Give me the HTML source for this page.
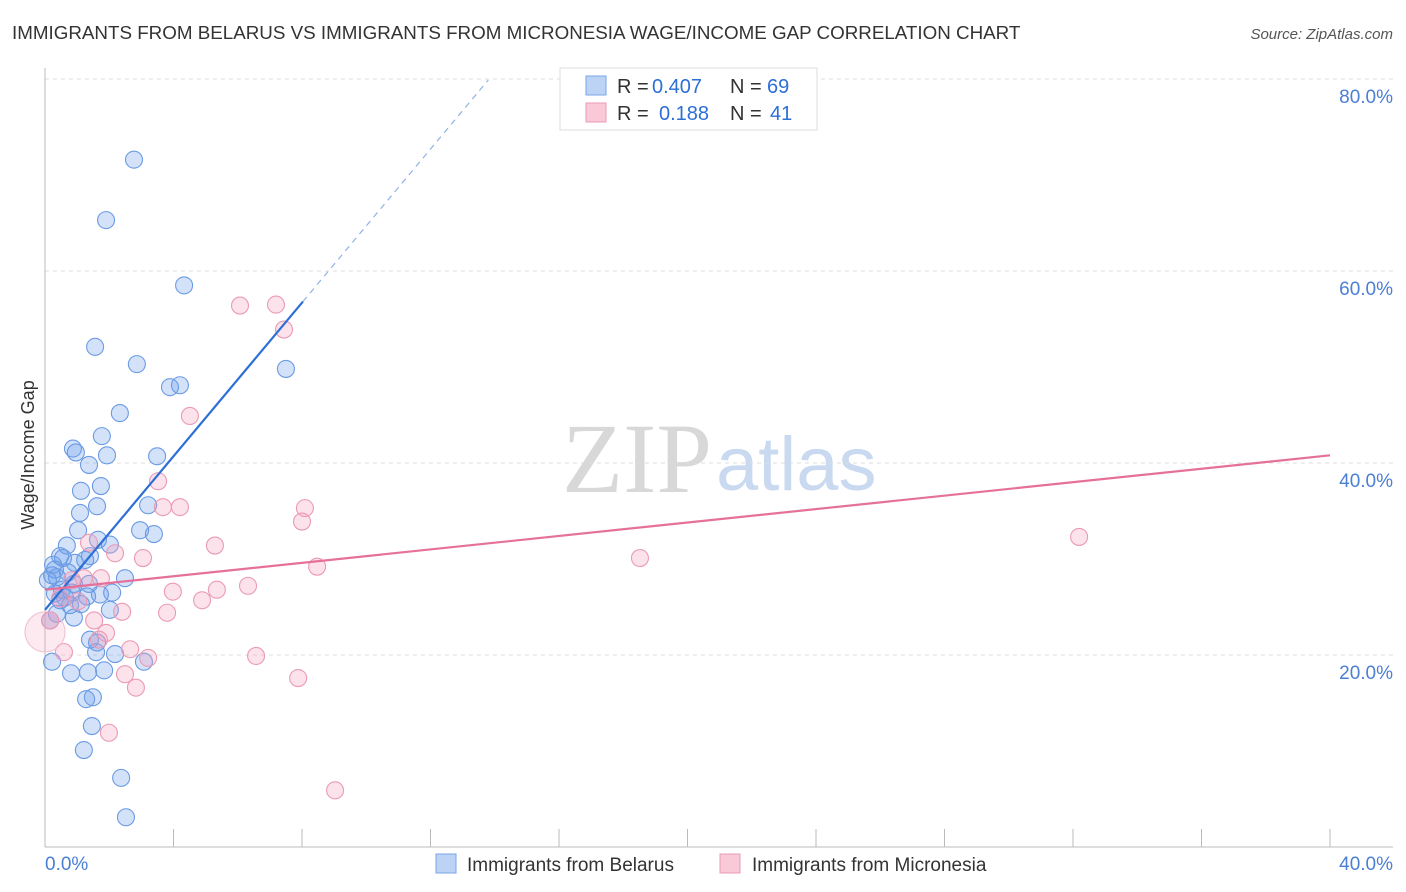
<!DOCTYPE html>
<html><head><meta charset="utf-8">
<style>
body{margin:0;background:#fff;font-family:"Liberation Sans",sans-serif;}
#wrap{position:relative;width:1406px;height:892px;overflow:hidden;}
</style></head>
<body>
<div id="wrap">
<svg id="chart" width="1406" height="892" xmlns="http://www.w3.org/2000/svg">
<text x="12" y="39" font-size="18.8" fill="#333">IMMIGRANTS FROM BELARUS VS IMMIGRANTS FROM MICRONESIA WAGE/INCOME GAP CORRELATION CHART</text>
<text x="1393" y="39" font-size="15" fill="#555" font-style="italic" text-anchor="end">Source: ZipAtlas.com</text>
<text x="712" y="492" font-size="100" fill="#d8d8d8" text-anchor="end" font-family="Liberation Serif,serif">ZIP</text>
<text x="716" y="490" font-size="76" fill="#c9d9f0">atlas</text>
<g id="grid"></g><g id="axes"></g><g id="pts"></g><g id="lines"></g>
<text transform="translate(34,455) rotate(-90)" font-size="18" fill="#333" text-anchor="middle">Wage/Income Gap</text>
<text x="45" y="870" font-size="19" fill="#4a7fd4">0.0%</text>
<text x="1393" y="870" font-size="19" fill="#4a7fd4" text-anchor="end">40.0%</text>
<g>
<rect x="560" y="68" width="257" height="62" fill="#fff" stroke="#ddd"/>
<rect x="586" y="76" width="20" height="19" fill="#bcd3f5" stroke="#7aa5e8"/>
<rect x="586" y="103" width="20" height="19" fill="#f9c9d8" stroke="#eb9ab5"/>
<text x="617" y="93" font-size="20" fill="#333">R =</text>
<text x="652" y="93" font-size="20" fill="#2c6fd6">0.407</text>
<text x="730" y="93" font-size="20" fill="#333">N =</text>
<text x="767" y="93" font-size="20" fill="#2c6fd6">69</text>
<text x="617" y="120" font-size="20" fill="#333">R =</text>
<text x="659" y="120" font-size="20" fill="#2c6fd6">0.188</text>
<text x="730" y="120" font-size="20" fill="#333">N =</text>
<text x="770" y="120" font-size="20" fill="#2c6fd6">41</text>
</g>
<g>
<rect x="436" y="854" width="20" height="19" fill="#bcd3f5" stroke="#7aa5e8"/>
<text x="467" y="871" font-size="19" fill="#333">Immigrants from Belarus</text>
<rect x="720" y="854" width="20" height="19" fill="#f9c9d8" stroke="#eb9ab5"/>
<text x="752" y="871" font-size="19" fill="#333">Immigrants from Micronesia</text>
</g>
</svg>
</div>
<script>
const yTicks=[20,40,60,80];
const yTickLabels=["20.0%","40.0%","60.0%","80.0%"];
const xTicks=[0,4,8,12,16,20,24,28,32,36,40];
const belarusX=[2.77,1.90,4.33,1.56,2.86,3.89,4.20,7.50,2.33,1.77,0.87,0.96,1.93,3.49,1.37,1.74,1.12,1.62,3.21,1.09,1.03,2.96,3.39,1.65,2.02,0.68,0.47,1.40,0.56,0.25,0.93,0.31,0.72,0.22,0.37,2.49,1.37,0.90,0.84,2.09,0.31,1.31,0.62,1.12,2.02,0.37,0.90,0.16,1.40,1.62,1.59,2.18,3.08,0.22,0.81,1.34,1.84,1.49,1.28,1.46,1.21,2.37,2.52,1.71,0.47,0.09,0.53,0.78,1.25];
const belarusY=[71.6,65.3,58.5,52.1,50.3,47.9,48.1,49.8,45.2,42.8,41.5,41.1,40.8,40.7,39.8,37.6,37.1,35.5,35.6,34.8,33.0,33.0,32.6,32.0,31.5,31.4,30.3,30.3,30.1,29.4,29.6,28.9,28.6,28.3,28.1,28.0,27.4,27.4,26.5,26.5,26.4,26.1,26.0,25.3,24.7,24.3,23.9,23.6,21.6,21.3,20.3,20.1,19.3,19.3,18.1,18.2,18.4,15.6,15.4,12.6,10.1,7.2,3.1,26.3,25.7,27.8,26.8,25.2,29.9];
const micronesiaX=[6.07,7.19,7.44,4.51,3.52,3.67,4.20,8.09,8.00,5.29,1.37,2.18,3.05,8.47,18.52,32.19,1.21,1.74,6.32,5.35,3.98,4.89,1.03,0.47,2.40,3.80,1.53,1.90,1.68,2.65,3.21,6.57,0.59,2.49,2.83,7.88,1.99,9.03,0,0.16,0.84];
const micronesiaY=[56.4,56.5,53.9,44.9,38.1,35.4,35.4,35.3,33.9,31.4,31.7,30.6,30.1,29.2,30.1,32.3,28.0,28.0,27.2,26.8,26.6,25.7,25.6,25.9,24.5,24.4,23.6,22.3,21.6,20.6,19.7,19.9,20.3,18.0,16.6,17.6,11.9,5.9,22.4,23.6,27.8];
const belarusTrend=[24.7,4.0]; // intercept, slope
const micronesiaTrend=[26.8,0.35];

const X0=45,X1=1330,Y0=847,YPER=9.6;
const sx=v=>X0+(X1-X0)*v/40;
const sy=v=>Y0-v*YPER;
const NS="http://www.w3.org/2000/svg";
function mk(tag,attrs,parent){const e=document.createElementNS(NS,tag);for(const k in attrs)e.setAttribute(k,attrs[k]);parent.appendChild(e);return e;}
const grid=document.getElementById('grid'),axes=document.getElementById('axes'),pts=document.getElementById('pts'),lines=document.getElementById('lines');
yTicks.forEach((t,i)=>{
  const l=mk('line',{x1:X0,x2:1393,y1:sy(t),y2:sy(t),stroke:'#ddd','stroke-dasharray':'4,4'},grid);
  
  
  const tx=mk('text',{x:1393,y:sy(t)+24,'font-size':19,fill:'#4a7fd4','text-anchor':'end'},grid);
  tx.textContent=yTickLabels[i];
  
  
});
const ya=mk('line',{x1:X0,x2:X0,y1:68,y2:Y0,stroke:'#bbb'},axes);


const xa=mk('line',{x1:X0,x2:1393,y1:Y0,y2:Y0,stroke:'#bbb'},axes);


xTicks.forEach(t=>{
  const l=mk('line',{x1:sx(t),x2:sx(t),y1:Y0-18,y2:Y0,stroke:'#bbb'},axes);
  
  
});
belarusX.forEach((v,i)=>{
  const c=mk('circle',{cx:sx(v),cy:sy(belarusY[i]),r:8.5,fill:'rgba(110,160,235,0.3)',stroke:'#6b9be3','stroke-width':1.1},pts);
  
  
});
micronesiaX.forEach((v,i)=>{
  const big=i===38;
  const c=mk('circle',{cx:sx(v),cy:sy(micronesiaY[i]),r:big?20:8.5,fill:big?'rgba(242,160,188,0.22)':'rgba(242,160,188,0.3)',stroke:big?'#f3c0d2':'#eb9ab5','stroke-width':1.1},pts);
  
  
});
const bEnd=8.03,bDash=13.8;
const bl=mk('line',{x1:sx(0),y1:sy(belarusTrend[0]),x2:sx(bEnd),y2:sy(belarusTrend[0]+belarusTrend[1]*bEnd),stroke:'#2d6fd6','stroke-width':2.2},lines);


const bd=mk('line',{x1:sx(bEnd),y1:sy(belarusTrend[0]+belarusTrend[1]*bEnd),x2:sx(bDash),y2:sy(belarusTrend[0]+belarusTrend[1]*bDash),stroke:'#8fb2e8','stroke-width':1.2,'stroke-dasharray':'6,5'},lines);


const ml=mk('line',{x1:sx(0),y1:sy(micronesiaTrend[0]),x2:sx(40),y2:sy(micronesiaTrend[0]+micronesiaTrend[1]*40),stroke:'#e5709a','stroke-width':2.2},lines);


</script>
</body></html>
